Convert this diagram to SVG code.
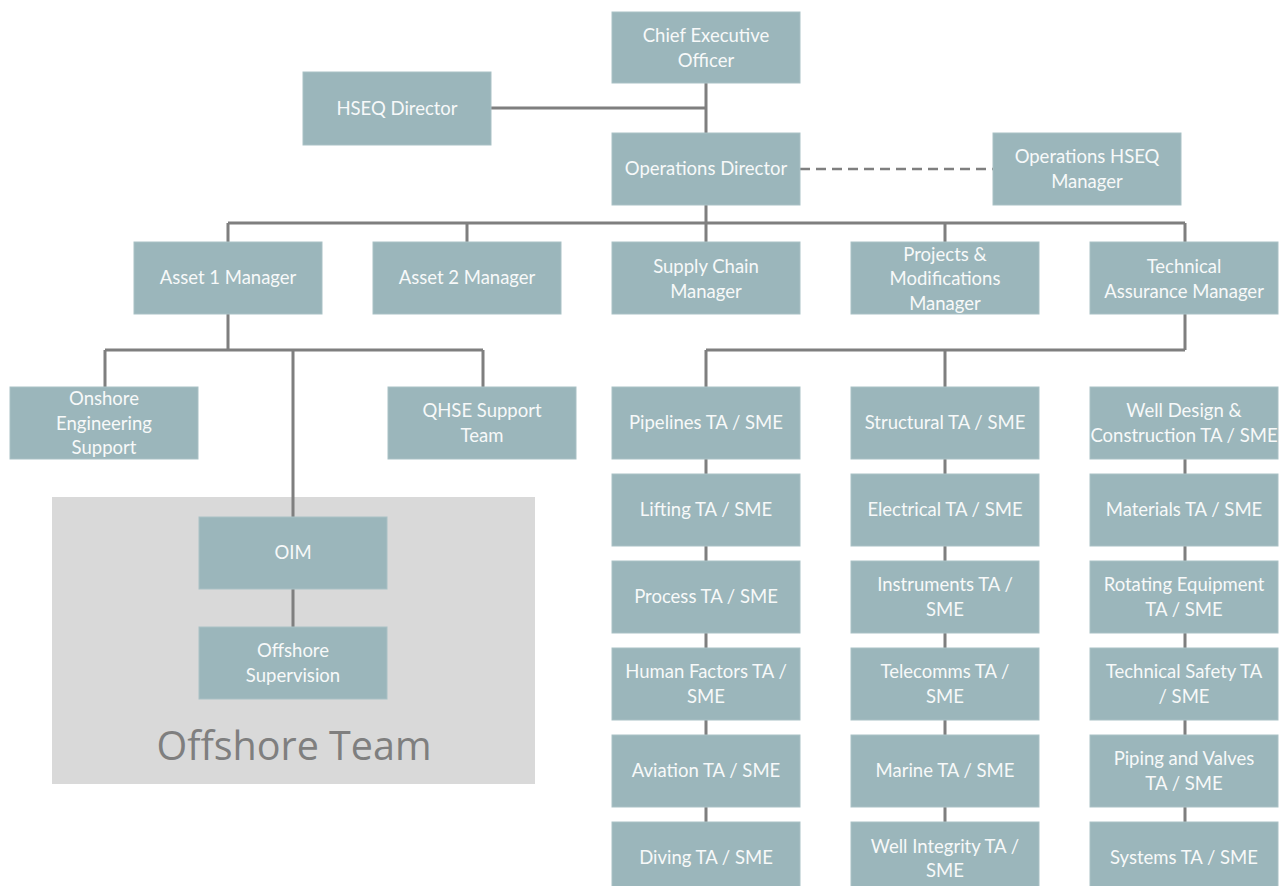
<svg xmlns="http://www.w3.org/2000/svg" width="1280" height="886" viewBox="0 0 1280 886">
  <style>
    .box { fill: #9bb6bb; stroke: #a9c1c5; stroke-width: 1; }
    .lbl { font-family: Lato, "Open Sans", "Liberation Sans", sans-serif; font-size: 18.5px; fill: #f7f9f9; text-anchor: middle; }
    .ln { stroke: #7f7f7f; stroke-width: 3; fill: none; }
    .dash { stroke: #7f7f7f; stroke-width: 2.5; stroke-dasharray: 10 6; fill: none; }
    .team { fill: #d9d9d9; }
    .teamlbl { font-family: "Open Sans", "Liberation Sans", sans-serif; font-size: 39.5px; fill: #7f7f7f; text-anchor: middle; }
  </style>
  <rect width="1280" height="886" fill="#ffffff"/>

  <!-- offshore team background -->
  <g id="offshore-team">
    <rect class="team" x="52" y="497" width="483" height="287"/>
    <text class="teamlbl" x="294" y="760">Offshore Team</text>
  </g>

  <!-- connectors -->
  <g id="connectors">
    <path class="ln" d="M706 83V133M491 108H706"/>
    <path class="dash" d="M800 169H993"/>
    <path class="ln" d="M706 205V223M228 223H1185M228 223V242M467 223V242M706 223V242M945 223V242M1185 223V242"/>
    <path class="ln" d="M228 314V350M105 350H483M105 350V387M483 350V387M293 350V517M293 589V627"/>
    <path class="ln" d="M1185 314V350M706 350H1185M706 350V387M945 350V387"/>
    <path class="ln" d="M706 459V822M945 459V822M1185 459V822"/>
  </g>

  <!-- top level -->
  <g id="ceo"><rect class="box" x="612" y="12" width="188" height="71"/><text class="lbl" x="706" y="42">Chief Executive</text><text class="lbl" x="706" y="67">Officer</text></g>
  <g id="hseq-director"><rect class="box" x="303" y="72" width="188" height="73"/><text class="lbl" x="397" y="115">HSEQ Director</text></g>
  <g id="operations-director"><rect class="box" x="612" y="133" width="188" height="72"/><text class="lbl" x="706" y="175">Operations Director</text></g>
  <g id="operations-hseq-manager"><rect class="box" x="993" y="133" width="188" height="72"/><text class="lbl" x="1087" y="163">Operations HSEQ</text><text class="lbl" x="1087" y="188">Manager</text></g>

  <!-- managers -->
  <g id="asset1-manager"><rect class="box" x="134" y="242" width="188" height="72"/><text class="lbl" x="228" y="284">Asset 1 Manager</text></g>
  <g id="asset2-manager"><rect class="box" x="373" y="242" width="188" height="72"/><text class="lbl" x="467" y="284">Asset 2 Manager</text></g>
  <g id="supply-chain-manager"><rect class="box" x="612" y="242" width="188" height="72"/><text class="lbl" x="706" y="273">Supply Chain</text><text class="lbl" x="706" y="298">Manager</text></g>
  <g id="projects-manager"><rect class="box" x="851" y="242" width="188" height="72"/><text class="lbl" x="945" y="261">Projects &amp;</text><text class="lbl" x="945" y="285">Modifications</text><text class="lbl" x="945" y="310">Manager</text></g>
  <g id="technical-assurance-manager"><rect class="box" x="1090" y="242" width="188" height="72"/><text class="lbl" x="1184" y="273">Technical</text><text class="lbl" x="1184" y="298">Assurance Manager</text></g>

  <!-- asset 1 reports -->
  <g id="onshore-engineering"><rect class="box" x="10" y="387" width="188" height="72"/><text class="lbl" x="104" y="405">Onshore</text><text class="lbl" x="104" y="430">Engineering</text><text class="lbl" x="104" y="454">Support</text></g>
  <g id="qhse-support"><rect class="box" x="388" y="387" width="188" height="72"/><text class="lbl" x="482" y="417">QHSE Support</text><text class="lbl" x="482" y="442">Team</text></g>
  <g id="oim"><rect class="box" x="199" y="517" width="188" height="72"/><text class="lbl" x="293" y="559">OIM</text></g>
  <g id="offshore-supervision"><rect class="box" x="199" y="627" width="188" height="72"/><text class="lbl" x="293" y="657">Offshore</text><text class="lbl" x="293" y="682">Supervision</text></g>

  <!-- TA / SME column 1 -->
  <g id="pipelines"><rect class="box" x="612" y="387" width="188" height="72"/><text class="lbl" x="706" y="429">Pipelines TA / SME</text></g>
  <g id="lifting"><rect class="box" x="612" y="474" width="188" height="72"/><text class="lbl" x="706" y="516">Lifting TA / SME</text></g>
  <g id="process"><rect class="box" x="612" y="561" width="188" height="72"/><text class="lbl" x="706" y="603">Process TA / SME</text></g>
  <g id="human-factors"><rect class="box" x="612" y="648" width="188" height="72"/><text class="lbl" x="706" y="678">Human Factors TA /</text><text class="lbl" x="706" y="703">SME</text></g>
  <g id="aviation"><rect class="box" x="612" y="735" width="188" height="72"/><text class="lbl" x="706" y="777">Aviation TA / SME</text></g>
  <g id="diving"><rect class="box" x="612" y="822" width="188" height="72"/><text class="lbl" x="706" y="864">Diving TA / SME</text></g>

  <!-- TA / SME column 2 -->
  <g id="structural"><rect class="box" x="851" y="387" width="188" height="72"/><text class="lbl" x="945" y="429">Structural TA / SME</text></g>
  <g id="electrical"><rect class="box" x="851" y="474" width="188" height="72"/><text class="lbl" x="945" y="516">Electrical TA / SME</text></g>
  <g id="instruments"><rect class="box" x="851" y="561" width="188" height="72"/><text class="lbl" x="945" y="591">Instruments TA /</text><text class="lbl" x="945" y="616">SME</text></g>
  <g id="telecomms"><rect class="box" x="851" y="648" width="188" height="72"/><text class="lbl" x="945" y="678">Telecomms TA /</text><text class="lbl" x="945" y="703">SME</text></g>
  <g id="marine"><rect class="box" x="851" y="735" width="188" height="72"/><text class="lbl" x="945" y="777">Marine TA / SME</text></g>
  <g id="well-integrity"><rect class="box" x="851" y="822" width="188" height="72"/><text class="lbl" x="945" y="853">Well Integrity TA /</text><text class="lbl" x="945" y="877">SME</text></g>

  <!-- TA / SME column 3 -->
  <g id="well-design"><rect class="box" x="1090" y="387" width="188" height="72"/><text class="lbl" x="1184" y="417">Well Design &amp;</text><text class="lbl" x="1184" y="442">Construction TA / SME</text></g>
  <g id="materials"><rect class="box" x="1090" y="474" width="188" height="72"/><text class="lbl" x="1184" y="516">Materials TA / SME</text></g>
  <g id="rotating-equipment"><rect class="box" x="1090" y="561" width="188" height="72"/><text class="lbl" x="1184" y="591">Rotating Equipment</text><text class="lbl" x="1184" y="616">TA / SME</text></g>
  <g id="technical-safety"><rect class="box" x="1090" y="648" width="188" height="72"/><text class="lbl" x="1184" y="678">Technical Safety TA</text><text class="lbl" x="1184" y="703">/ SME</text></g>
  <g id="piping-valves"><rect class="box" x="1090" y="735" width="188" height="72"/><text class="lbl" x="1184" y="765">Piping and Valves</text><text class="lbl" x="1184" y="790">TA / SME</text></g>
  <g id="systems"><rect class="box" x="1090" y="822" width="188" height="72"/><text class="lbl" x="1184" y="864">Systems TA / SME</text></g>
</svg>
